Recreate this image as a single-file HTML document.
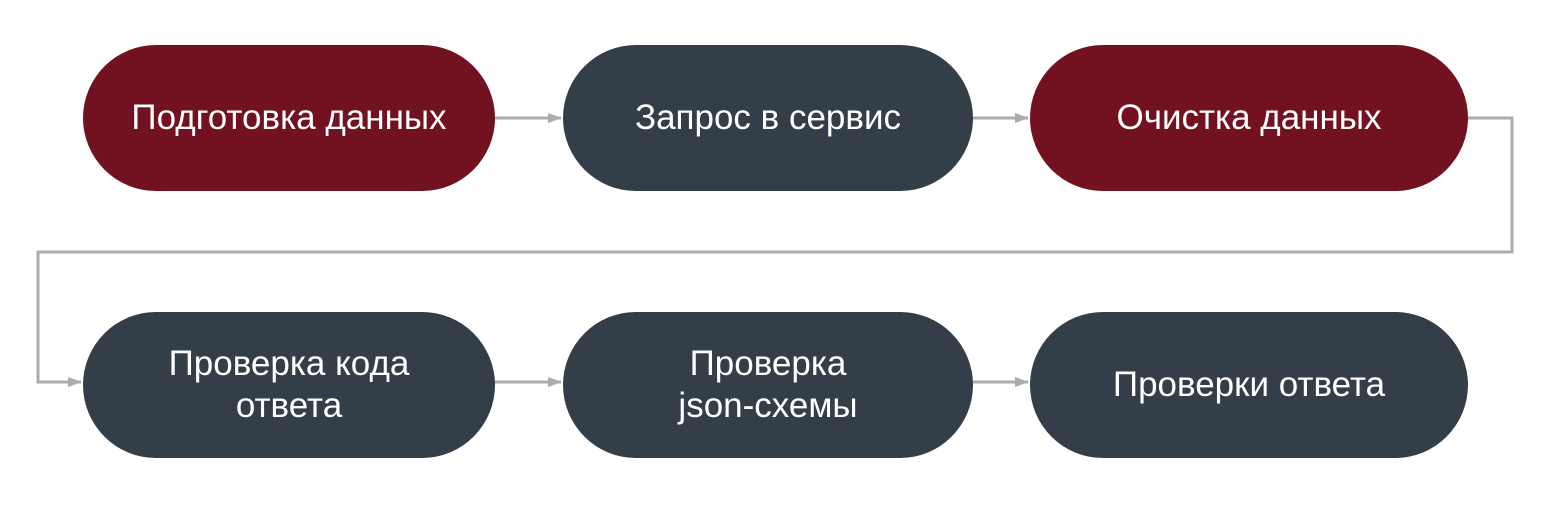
<!DOCTYPE html>
<html><head><meta charset="utf-8"><style>
body{margin:0;background:#fff;width:1560px;height:507px;overflow:hidden;font-family:"Liberation Sans","DejaVu Sans",sans-serif}
.n{position:absolute;height:146px;border-radius:73px;color:#fff;font-size:35px;display:flex;align-items:center;justify-content:center;text-align:center;line-height:42px}
.r{background:#72111f}.d{background:#333e48}
</style></head><body>
<svg width="1560" height="507" style="position:absolute;left:0;top:0">
<defs><marker id="a" markerWidth="14" markerHeight="12" refX="13" refY="6" orient="auto" markerUnits="userSpaceOnUse"><path d="M0,1 L14,6 L0,11z" fill="#a9adb2"/></marker></defs>
<g stroke="#a9adb2" stroke-width="3" fill="none">
<path d="M495 118 H561" marker-end="url(#a)"/>
<path d="M973 118 H1028" marker-end="url(#a)"/>
<path d="M1468 118 H1512 V252 H38 V382 H81" marker-end="url(#a)"/>
<path d="M495 382 H561" marker-end="url(#a)"/>
<path d="M973 382 H1028" marker-end="url(#a)"/>
</g></svg>
<div class="n r" style="left:83px;top:45px;width:412px">Подготовка данных</div>
<div class="n d" style="left:563px;top:45px;width:410px">Запрос в сервис</div>
<div class="n r" style="left:1030px;top:45px;width:438px">Очистка данных</div>
<div class="n d" style="left:83px;top:312px;width:412px">Проверка кода<br>ответа</div>
<div class="n d" style="left:563px;top:312px;width:410px">Проверка<br>json-схемы</div>
<div class="n d" style="left:1030px;top:312px;width:438px">Проверки ответа</div>
</body></html>
